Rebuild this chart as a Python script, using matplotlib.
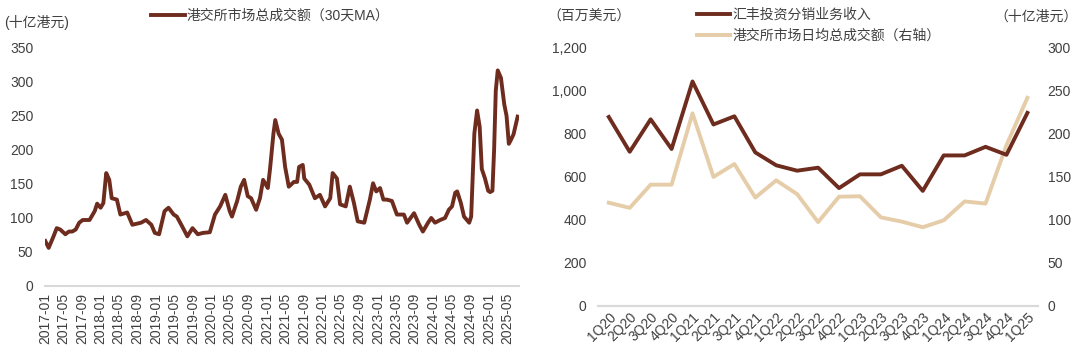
import matplotlib
matplotlib.use("Agg")
import matplotlib.pyplot as plt
import matplotlib.dates as mdates
import numpy as np
import pandas as pd

plt.rcParams['font.family'] = ['Liberation Sans', 'Noto Sans CJK SC']
plt.rcParams['font.size'] = 10

# ---------------- data: left chart ----------------
hk_dates = [
    "2017-01-03", "2017-01-25", "2017-02-26", "2017-03-19", "2017-04-11", "2017-05-15",
    "2017-06-07", "2017-06-29", "2017-07-22", "2017-08-14", "2017-09-06", "2017-10-21",
    "2017-11-24", "2017-12-10", "2018-01-02", "2018-01-20", "2018-02-08", "2018-02-28",
    "2018-03-16", "2018-04-19", "2018-05-12", "2018-06-26", "2018-07-30", "2018-09-25",
    "2018-10-28", "2018-12-02", "2018-12-25", "2019-01-22", "2019-02-27", "2019-03-25",
    "2019-04-28", "2019-05-19", "2019-06-22", "2019-07-27", "2019-08-30", "2019-10-04",
    "2019-11-07", "2019-12-22", "2020-01-25", "2020-02-28", "2020-04-02", "2020-05-01",
    "2020-05-16", "2020-06-19", "2020-07-13", "2020-08-04", "2020-08-28", "2020-09-19",
    "2020-10-22", "2020-11-16", "2020-12-07", "2021-01-07", "2021-01-22", "2021-02-13",
    "2021-02-25", "2021-03-19", "2021-04-10", "2021-05-01", "2021-05-25", "2021-06-28",
    "2021-07-19", "2021-08-01", "2021-08-25", "2021-09-04", "2021-10-07", "2021-11-13",
    "2021-12-16", "2022-01-19", "2022-02-22", "2022-03-10", "2022-04-07", "2022-04-28",
    "2022-06-04", "2022-07-01", "2022-07-28", "2022-08-22", "2022-10-04", "2022-11-10",
    "2022-12-01", "2022-12-22", "2023-01-16", "2023-02-07", "2023-03-01", "2023-04-04",
    "2023-05-07", "2023-06-22", "2023-07-13", "2023-08-28", "2023-10-01", "2023-10-25",
    "2023-11-28", "2023-12-19", "2024-01-13", "2024-02-16", "2024-03-19", "2024-04-13",
    "2024-05-04", "2024-05-25", "2024-06-07", "2024-07-01", "2024-07-22", "2024-08-25",
    "2024-09-07", "2024-09-28", "2024-10-16", "2024-11-02", "2024-11-16", "2024-12-07",
    "2024-12-28", "2025-01-10", "2025-01-25", "2025-02-05", "2025-02-16", "2025-03-01",
    "2025-03-22", "2025-04-13", "2025-04-28", "2025-05-13", "2025-05-25", "2025-06-13",
    "2025-07-10",
]
hk_turnover_ma30 = [
    66, 56, 73, 85, 83, 76,
    80, 80, 83, 93, 97, 97,
    110, 121, 115, 122, 166, 156,
    129, 127, 105, 108, 90, 93,
    97, 90, 78, 76, 110, 115,
    105, 102, 88, 73, 85, 76,
    78, 79, 105, 117, 134, 110,
    102, 125, 146, 156, 132, 129,
    112, 129, 156, 144, 173, 224,
    244, 224, 215, 175, 146, 153,
    153, 175, 178, 158, 149, 129,
    134, 117, 129, 166, 158, 120,
    117, 146, 122, 95, 93, 127,
    151, 139, 144, 127, 127, 125,
    105, 105, 93, 107, 90, 80,
    93, 100, 93, 97, 100, 112,
    117, 137, 139, 122, 102, 93,
    102, 224, 258, 234, 172, 158,
    140, 138, 140, 200, 287, 317,
    306, 267, 250, 209, 214, 223,
    249,
]
left_yticks = [0, 50, 100, 150, 200, 250, 300, 350]

# ---------------- data: right chart ----------------
quarters = ["1Q20", "2Q20", "3Q20", "4Q20", "1Q21", "2Q21", "3Q21", "4Q21",
            "1Q22", "2Q22", "3Q22", "4Q22", "1Q23", "2Q23", "3Q23", "4Q23",
            "1Q24", "2Q24", "3Q24", "4Q24", "1Q25"]
hsbc_revenue = [879, 717, 868, 730, 1044, 844, 882, 714,
                654, 629, 643, 548, 612, 612, 652, 535,
                700, 700, 740, 703, 898]
hkex_adt = [120, 114, 141, 141, 224, 150, 165, 126,
            146, 130, 97.5, 127, 127.5, 103, 98, 91.5,
            99.5, 121.5, 119, 187, 242]
right_left_ticks = [0, 200, 400, 600, 800, 1000, 1200]
right_right_ticks = [0, 50, 100, 150, 200, 250, 300]

DARK = "#6E2C1F"
LIGHT = "#E6CDA9"
TXT = "#404040"
SPINE = "#D9D9D9"

fig = plt.figure(figsize=(10.8, 3.5), dpi=100)

# ---------------- left chart ----------------
ax1 = fig.add_axes([0.0417, 0.183, 0.439, 0.680])
dates = pd.to_datetime(hk_dates)
ax1.plot(dates, hk_turnover_ma30, color=DARK, lw=2.8, solid_joinstyle='round',
         label="港交所市场总成交额（30天MA）")
ax1.set_ylim(0, 350)
ax1.set_yticks(left_yticks)
ax1.set_xlim(pd.Timestamp("2017-01-01"), pd.Timestamp("2025-07-20"))
ax1.xaxis.set_major_locator(mdates.MonthLocator(bymonth=[1, 5, 9]))
ax1.xaxis.set_major_formatter(mdates.DateFormatter("%Y-%m"))
for lab in ax1.get_xticklabels():
    lab.set_rotation(90)
for s in ["top", "right", "left"]:
    ax1.spines[s].set_visible(False)
ax1.spines["bottom"].set_color(SPINE)
ax1.spines["bottom"].set_linewidth(1.5)
ax1.tick_params(axis="y", length=0, pad=8.5, colors=TXT, labelsize=10)
ax1.tick_params(axis="x", length=0, pad=5, colors=TXT, labelsize=10)
ax1.legend(loc="upper left", bbox_to_anchor=(0.140, 0.975), bbox_transform=fig.transFigure,
           frameon=False, borderaxespad=0, borderpad=0, handlelength=2.4,
           handletextpad=0.15, fontsize=10, labelcolor=TXT)
fig.text(0.004, 0.937, "(十亿港元)", ha="left", va="center", fontsize=10, color=TXT)

# ---------------- right chart ----------------
ax2 = fig.add_axes([0.554, 0.126, 0.407, 0.737])
x = np.arange(len(quarters))
l1, = ax2.plot(x, hsbc_revenue, color=DARK, lw=2.8, zorder=3, label="汇丰投资分销业务收入")
ax2.set_ylim(0, 1200)
ax2.set_yticks(right_left_ticks)
ax2.yaxis.set_major_formatter(matplotlib.ticker.FuncFormatter(lambda v, p: f"{int(v):,}"))
ax2.set_xlim(-0.5, len(quarters) - 0.5)
ax2.set_xticks(x)
ax2.set_xticklabels(quarters, rotation=45, ha="right", rotation_mode="anchor")
ax3 = ax2.twinx()
l2, = ax3.plot(x, hkex_adt, color=LIGHT, lw=2.8, zorder=2, label="港交所市场日均总成交额（右轴）")
ax3.set_ylim(0, 300)
ax3.set_yticks(right_right_ticks)
ax2.set_zorder(ax3.get_zorder() + 1)
ax2.patch.set_visible(False)
for a in (ax2, ax3):
    for s in ["top", "right", "left"]:
        a.spines[s].set_visible(False)
    a.spines["bottom"].set_color(SPINE)
    a.spines["bottom"].set_linewidth(1.5)
ax2.tick_params(axis="y", length=0, pad=8.5, colors=TXT, labelsize=10)
ax2.tick_params(axis="x", length=0, pad=3, colors=TXT, labelsize=10)
ax3.tick_params(axis="y", length=0, pad=7, colors=TXT, labelsize=10)
ax2.legend(handles=[l1, l2], loc="upper left", bbox_to_anchor=(0.645, 0.978),
           bbox_transform=fig.transFigure, frameon=False, borderaxespad=0, borderpad=0,
           handlelength=2.4, handletextpad=0.15, labelspacing=0.5, fontsize=10,
           labelcolor=TXT)
fig.text(0.507, 0.951, "（百万美元）", ha="left", va="center", fontsize=10, color=TXT)
fig.text(0.998, 0.951, "（十亿港元）", ha="right", va="center", fontsize=10, color=TXT)

fig.savefig("out.png", dpi=100)
